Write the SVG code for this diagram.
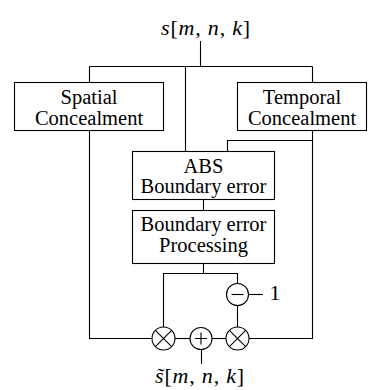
<svg xmlns="http://www.w3.org/2000/svg" width="376" height="390" viewBox="0 0 376 390">
  <style>
    .box { fill: #fff; stroke: #000; stroke-width: 1.1; }
    .wire { fill: none; stroke: #000; stroke-width: 1.1; }
    .op { fill: #fff; stroke: #000; stroke-width: 1.1; }
    .sym { fill: none; stroke: #000; stroke-width: 1.1; }
    .lbl { font-family: "Liberation Serif", "Times New Roman", serif; font-size: 20.5px; fill: #000; text-anchor: middle; }
    .math { font-family: "Liberation Serif", "Times New Roman", serif; font-size: 22px; letter-spacing: 0.8px; fill: #000; text-anchor: middle; }
    .it { font-style: italic; }
  </style>

  <!-- connectors -->
  <g id="connectors">
    <path class="wire" d="M200.5 41 V66.5"/>
    <path class="wire" d="M89.5 66.5 H312.5"/>
    <path class="wire" d="M89.5 66.5 V82.5"/>
    <path class="wire" d="M312.5 66.5 V82.5"/>
    <path class="wire" d="M185.5 66.5 V151.5"/>
    <path class="wire" d="M89.5 130.5 V338.5 H152"/>
    <path class="wire" d="M312.5 130.5 V338.5 H249"/>
    <path class="wire" d="M227.5 151.5 V140.5 H312.5"/>
    <path class="wire" d="M203.5 199.5 V210.5"/>
    <path class="wire" d="M203.5 263.5 V273.5"/>
    <path class="wire" d="M163.5 327 V273.5 H237.5 V283"/>
    <path class="wire" d="M237.5 305 V327"/>
    <path class="wire" d="M248.5 294.5 H263"/>
    <path class="wire" d="M175 338.5 H190"/>
    <path class="wire" d="M212 338.5 H226"/>
    <path class="wire" d="M201.5 350 V364"/>
  </g>

  <!-- input / output labels -->
  <g id="input">
    <text class="math" x="206" y="35"><tspan class="it">s</tspan>[<tspan class="it">m</tspan>, <tspan class="it">n</tspan>, <tspan class="it">k</tspan>]</text>
  </g>
  <g id="output">
    <text class="math" x="200" y="383"><tspan class="it">s̃</tspan>[<tspan class="it">m</tspan>, <tspan class="it">n</tspan>, <tspan class="it">k</tspan>]</text>
  </g>

  <g id="spatial">
    <rect class="box" x="14.5" y="82.5" width="149" height="48"/>
    <text class="lbl" x="89" y="104">Spatial</text>
    <text class="lbl" x="89" y="125">Concealment</text>
  </g>

  <g id="temporal">
    <rect class="box" x="237.5" y="82.5" width="129" height="48"/>
    <text class="lbl" x="302" y="104">Temporal</text>
    <text class="lbl" x="302" y="125">Concealment</text>
  </g>

  <g id="abs">
    <rect class="box" x="132.5" y="151.5" width="142" height="48"/>
    <text class="lbl" x="203.5" y="173">ABS</text>
    <text class="lbl" x="203.5" y="193">Boundary error</text>
  </g>

  <g id="processing">
    <rect class="box" x="132.5" y="210.5" width="142" height="53"/>
    <text class="lbl" x="203.5" y="231">Boundary error</text>
    <text class="lbl" x="203.5" y="252">Processing</text>
  </g>

  <g id="minus">
    <circle class="op" cx="237.5" cy="294.5" r="11"/>
    <path class="sym" d="M231.5 294.5 H243.5"/>
    <text class="lbl" x="275" y="300" style="font-size:22px">1</text>
  </g>

  <g id="mul-left">
    <circle class="op" cx="163.5" cy="338.5" r="11.5"/>
    <path class="sym" d="M155.4 330.4 L171.6 346.6 M171.6 330.4 L155.4 346.6"/>
  </g>

  <g id="sum">
    <circle class="op" cx="201" cy="338.5" r="11"/>
    <path class="sym" d="M195 338.5 H207 M201 332.5 V344.5"/>
  </g>

  <g id="mul-right">
    <circle class="op" cx="237.5" cy="338.5" r="11.5"/>
    <path class="sym" d="M229.4 330.4 L245.6 346.6 M245.6 330.4 L229.4 346.6"/>
  </g>
</svg>
